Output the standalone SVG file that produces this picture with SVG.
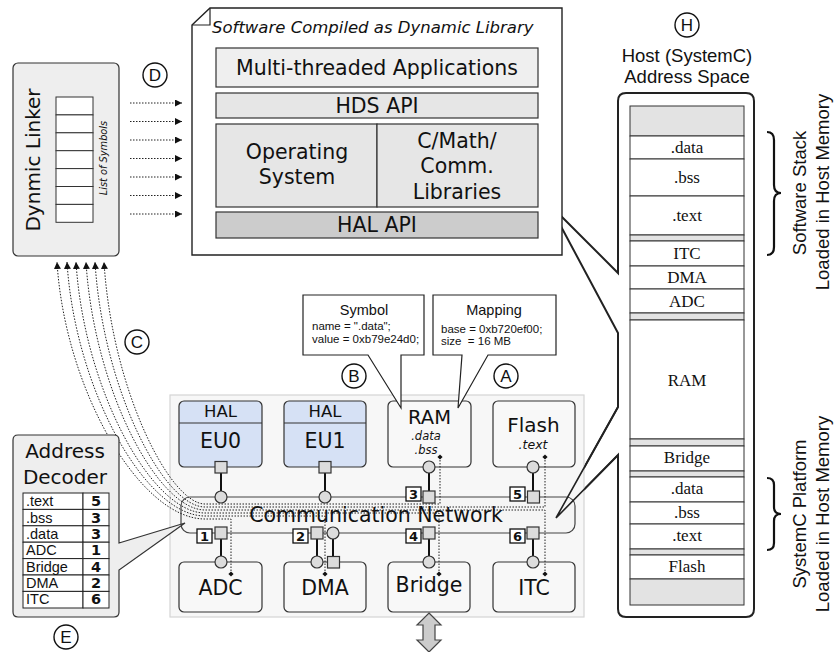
<svg xmlns="http://www.w3.org/2000/svg" width="834" height="652" viewBox="0 0 834 652">
<defs>
<style>
.dj{font-family:"DejaVu Sans",Verdana,sans-serif;fill:#111}
.dji{font-family:"DejaVu Sans",Verdana,sans-serif;font-style:italic;fill:#111}
.djb{font-family:"DejaVu Sans",Verdana,sans-serif;font-weight:bold;fill:#111}
.ls{font-family:"Liberation Sans",Arial,sans-serif;fill:#111}
.lr{font-family:"Liberation Serif","Times New Roman",serif;fill:#111}
.mid{text-anchor:middle}
.box{stroke:#333;stroke-width:1.2}
.port{fill:#dcdcdc;stroke:#333;stroke-width:1.2}
.pl{stroke:#111;stroke-width:2;fill:none}
.dotl{stroke:#222;stroke-width:1;stroke-dasharray:1.5 1.5;fill:none}
.num{fill:#fff;stroke:#111;stroke-width:1.3}
.lab{fill:#fff;stroke:#111;stroke-width:1.4}
.cell{fill:#fff;stroke:#333;stroke-width:1}
.gcell{fill:#e3e3e3;stroke:#333;stroke-width:1}
</style>
<marker id="ah" markerUnits="userSpaceOnUse" markerWidth="8" markerHeight="8" refX="7" refY="3.5" orient="auto"><path d="M0,0 L7,3.5 L0,7 Z" fill="#111"/></marker>
<path id="dmd" d="M0,-2.6 L2.6,0 L0,2.6 L-2.6,0 Z" fill="#111"/>
</defs>
<rect width="834" height="652" fill="#fff"/>

<!-- Host address space -->
<g id="host">
<path d="M626,93 H746 Q754,93 754,101 V609 Q754,617 746,617 H626 Q618,617 618,609 V455 L556,518 L618,407 V333 L549,204 L618,273 V101 Q618,93 626,93 Z" fill="#fff" stroke="#222" stroke-width="2"/>
<rect class="gcell" x="630" y="106" width="114" height="30"/>
<rect class="cell" x="630" y="136" width="114" height="23"/>
<rect class="cell" x="630" y="159" width="114" height="37"/>
<rect class="cell" x="630" y="196" width="114" height="39"/>
<rect class="gcell" x="630" y="235" width="114" height="6"/>
<rect class="cell" x="630" y="241" width="114" height="25"/>
<rect class="cell" x="630" y="266" width="114" height="23"/>
<rect class="cell" x="630" y="289" width="114" height="24"/>
<rect class="gcell" x="630" y="313" width="114" height="7"/>
<rect class="cell" x="630" y="320" width="114" height="119"/>
<rect class="gcell" x="630" y="439" width="114" height="7"/>
<rect class="cell" x="630" y="446" width="114" height="25"/>
<rect class="gcell" x="630" y="471" width="114" height="6"/>
<rect class="cell" x="630" y="477" width="114" height="25"/>
<rect class="cell" x="630" y="502" width="114" height="22"/>
<rect class="cell" x="630" y="524" width="114" height="25"/>
<rect class="gcell" x="630" y="549" width="114" height="6"/>
<rect class="cell" x="630" y="555" width="114" height="24"/>
<rect class="gcell" x="630" y="579" width="114" height="26"/>
<g class="lr mid" font-size="17">
<text x="687" y="153">.data</text>
<text x="687" y="183">.bss</text>
<text x="687" y="221">.text</text>
<text x="687" y="259">ITC</text>
<text x="687" y="283">DMA</text>
<text x="687" y="307">ADC</text>
<text x="687" y="386">RAM</text>
<text x="687" y="463">Bridge</text>
<text x="687" y="494">.data</text>
<text x="687" y="518">.bss</text>
<text x="687" y="541">.text</text>
<text x="687" y="572">Flash</text>
</g>
<text class="ls mid" font-size="18.5" x="687" y="62">Host (SystemC)</text>
<text class="ls mid" font-size="18.5" x="687" y="83">Address Space</text>
</g>

<!-- Braces and side labels -->
<g id="braces">
<path d="M767,132 Q774,132 774,140 V185 Q774,193 781,193 Q774,193 774,201 V247 Q774,255 767,255" fill="none" stroke="#111" stroke-width="2.2"/>
<path d="M767,478 Q774,478 774,485 V507 Q774,514 781,514 Q774,514 774,521 V543 Q774,550 767,550" fill="none" stroke="#111" stroke-width="2.2"/>
<text class="ls mid" font-size="18.5" transform="translate(806,193) rotate(-90)">Software Stack</text>
<text class="ls mid" font-size="18.5" transform="translate(829,192) rotate(-90)">Loaded in Host Memory</text>
<text class="ls mid" font-size="18.5" transform="translate(806,514) rotate(-90)">SystemC Platform</text>
<text class="ls mid" font-size="18.5" transform="translate(829,514) rotate(-90)">Loaded in Host Memory</text>
</g>

<!-- Software box -->
<g id="software">
<path d="M192,25 L210,8 H562 V255 H192 Z" fill="#fff" stroke="#222" stroke-width="1.4"/>
<path d="M210,8 V25 H192" fill="none" stroke="#222" stroke-width="1.2"/>
<text class="dji" font-size="16.5" x="212" y="33">Software Compiled as Dynamic Library</text>
<rect class="box" x="216" y="48" width="322" height="39" fill="#efefef"/>
<text class="dj mid" font-size="20.5" x="377" y="75">Multi-threaded Applications</text>
<rect class="box" x="216" y="93" width="322" height="25" fill="#e6e6e6"/>
<text class="dj mid" font-size="20.5" x="377" y="113">HDS API</text>
<rect class="box" x="216" y="124" width="161" height="83" fill="#e6e6e6"/>
<rect class="box" x="377" y="124" width="161" height="83" fill="#e6e6e6"/>
<text class="dj mid" font-size="20.5" x="297" y="159">Operating</text>
<text class="dj mid" font-size="20.5" x="297" y="184">System</text>
<text class="dj mid" font-size="20.5" x="457" y="148">C/Math/</text>
<text class="dj mid" font-size="20.5" x="457" y="173">Comm.</text>
<text class="dj mid" font-size="20.5" x="457" y="199">Libraries</text>
<rect class="box" x="216" y="212" width="322" height="26" fill="#cccccc"/>
<text class="dj mid" font-size="20.5" x="377" y="232">HAL API</text>
</g>

<!-- Dynamic linker -->
<g id="linker">
<rect class="box" x="13" y="63" width="106" height="193" rx="5" fill="#eeeeee"/>
<text class="dj mid" font-size="20" transform="translate(40,160) rotate(-90)">Dynmic Linker</text>
<rect class="cell" x="56" y="97" width="37" height="17.9"/>
<rect class="cell" x="56" y="114.9" width="37" height="17.9"/>
<rect class="cell" x="56" y="132.8" width="37" height="17.9"/>
<rect class="cell" x="56" y="150.7" width="37" height="17.9"/>
<rect class="cell" x="56" y="168.6" width="37" height="17.9"/>
<rect class="cell" x="56" y="186.5" width="37" height="17.9"/>
<rect class="cell" x="56" y="204.4" width="37" height="17.9"/>
<text class="dji mid" font-size="9.8" transform="translate(107,158) rotate(-90)">List of Symbols</text>
</g>

<!-- Platform panel -->
<g id="platform">
<rect x="170" y="395" width="414" height="222" fill="#f7f7f7" stroke="#d4d4d4" stroke-width="1.2"/>
</g>

<g id="eu0">
<rect class="box" x="179" y="401" width="83" height="66" rx="5" fill="#d6e1f5"/>
<line x1="179" y1="423" x2="262" y2="423" stroke="#333" stroke-width="1.2"/>
<text class="dj mid" font-size="16.5" x="220.5" y="417">HAL</text>
<text class="dj mid" font-size="20.5" x="220.5" y="448">EU0</text>
</g>
<g id="eu1">
<rect class="box" x="284" y="401" width="82" height="66" rx="5" fill="#d6e1f5"/>
<line x1="284" y1="423" x2="366" y2="423" stroke="#333" stroke-width="1.2"/>
<text class="dj mid" font-size="16.5" x="325" y="417">HAL</text>
<text class="dj mid" font-size="20.5" x="325" y="448">EU1</text>
</g>
<g id="ram">
<rect class="box" x="388" y="401" width="83" height="66" rx="5" fill="#f8f8f8"/>
<text class="dj mid" font-size="19.5" x="429.5" y="424">RAM</text>
<text class="dji mid" font-size="11.5" x="426" y="440">.data</text>
<text class="dji mid" font-size="11.5" x="426" y="454">.bss</text>
</g>
<g id="flash">
<rect class="box" x="493" y="401" width="82" height="66" rx="5" fill="#f8f8f8"/>
<text class="dj mid" font-size="20" x="533.5" y="432">Flash</text>
<text class="dji mid" font-size="12.5" x="533" y="449">.text</text>
</g>
<g id="adc">
<rect class="box" x="179" y="562" width="83" height="50" rx="5" fill="#f8f8f8"/>
<text class="dj mid" font-size="20.5" x="220.5" y="595">ADC</text>
</g>
<g id="dma">
<rect class="box" x="284" y="562" width="82" height="50" rx="5" fill="#f8f8f8"/>
<text class="dj mid" font-size="20.5" x="325" y="595">DMA</text>
</g>
<g id="bridge">
<rect class="box" x="388" y="562" width="82" height="50" rx="5" fill="#f8f8f8"/>
<text class="dj mid" font-size="20.5" x="429" y="592">Bridge</text>
</g>
<g id="itc">
<rect class="box" x="493" y="562" width="82" height="50" rx="5" fill="#f8f8f8"/>
<text class="dj mid" font-size="20.5" x="534" y="595">ITC</text>
</g>
<g id="network">
<rect x="181" y="497" width="394" height="36" rx="9" fill="#f5f5f5" stroke="#444" stroke-width="1.2"/>
<text class="dj mid" font-size="20.5" x="376" y="522">Communication Network</text>
</g>

<!-- lower wedge edges of host callout -->
<g id="host-wedge">
<path d="M618,455 L556,518 L618,407" fill="none" stroke="#222" stroke-width="1.6"/>
</g>

<!-- Connectors -->
<g id="connectors">
<g class="pl">
<line x1="221" y1="473" x2="221" y2="491"/>
<line x1="325" y1="473" x2="325" y2="491"/>
<line x1="429" y1="473" x2="429" y2="491"/>
<line x1="533" y1="473" x2="533" y2="491"/>
<line x1="221" y1="539" x2="221" y2="556"/>
<line x1="317" y1="539" x2="317" y2="556"/>
<line x1="333" y1="539" x2="333" y2="557"/>
<line x1="429" y1="539" x2="429" y2="556"/>
<line x1="533" y1="539" x2="533" y2="556"/>
</g>
<g id="ports">
<rect class="port" x="215" y="461.5" width="12" height="11.5"/>
<rect class="port" x="319" y="461.5" width="12" height="11.5"/>
<circle class="port" cx="221" cy="497" r="6"/>
<circle class="port" cx="325" cy="497" r="6"/>
<circle class="port" cx="429" cy="467" r="6"/>
<circle class="port" cx="533" cy="467" r="6"/>
<rect class="port" x="423" y="491" width="12" height="12"/>
<rect class="port" x="527.5" y="491" width="12" height="12"/>
<rect class="port" x="215" y="527" width="12" height="12"/>
<rect class="port" x="311" y="527" width="12" height="12"/>
<rect class="port" x="423" y="527" width="12" height="12"/>
<rect class="port" x="527" y="527" width="12" height="12"/>
<circle class="port" cx="221" cy="562" r="6"/>
<circle class="port" cx="317" cy="562" r="6"/>
<circle class="port" cx="333" cy="533" r="6"/>
<rect class="port" x="327.5" y="556.5" width="12" height="11.5"/>
<circle class="port" cx="429" cy="562" r="6"/>
<circle class="port" cx="533" cy="562" r="6"/>
</g>
<g id="numbers">
<rect class="num" x="406" y="487" width="15" height="14"/>
<text class="djb mid" font-size="13" x="413.5" y="499">3</text>
<rect class="num" x="510" y="487" width="15" height="14"/>
<text class="djb mid" font-size="13" x="517.5" y="499">5</text>
<rect class="num" x="197" y="529" width="15" height="14"/>
<text class="djb mid" font-size="13" x="204.5" y="541">1</text>
<rect class="num" x="293" y="529" width="15" height="14"/>
<text class="djb mid" font-size="13" x="300.5" y="541">2</text>
<rect class="num" x="406" y="529" width="15" height="14"/>
<text class="djb mid" font-size="13" x="413.5" y="541">4</text>
<rect class="num" x="510" y="529" width="15" height="14"/>
<text class="djb mid" font-size="13" x="517.5" y="541">6</text>
</g>
<!-- symbol lookup lines (C) -->
<g class="dotl" marker-end="url(#ah)">
<path d="M440,457 V504 H205 C170,504 112,390 104,262"/>
<path d="M545,457 V507 H205 C164,507 103,390 95,262"/>
<path d="M545,574 V510 H205 C158,510 94,390 86,262"/>
<path d="M439,574 V513 H205 C152,513 84,390 76,262"/>
<path d="M325,574 V516 H205 C146,516 75,390 67,262"/>
<path d="M231,574 V519 H205 C140,519 65,390 57,262"/>
</g>
<use href="#dmd" x="440" y="457"/>
<use href="#dmd" x="545" y="457"/>
<use href="#dmd" x="231" y="574"/>
<use href="#dmd" x="325" y="574"/>
<use href="#dmd" x="439" y="574"/>
<use href="#dmd" x="545" y="574"/>
<!-- linker to software (D) -->
<g class="dotl" marker-end="url(#ah)">
<path d="M130,103 H182"/>
<path d="M130,121.5 H182"/>
<path d="M130,140 H182"/>
<path d="M130,158.5 H182"/>
<path d="M130,177 H182"/>
<path d="M130,195.5 H182"/>
<path d="M130,214 H182"/>
</g>
<!-- external bridge arrow -->
<polygon points="429,613 441,625 435,625 435,640 441,640 429,652 417,640 423,640 423,625 417,625" fill="#cccccc" stroke="#444" stroke-width="1.2"/>
</g>

<!-- Symbol callout -->
<g id="symbol">
<path d="M303,295 H424 V355 H401 V408 L368,355 H303 Z" fill="#fff" stroke="#222" stroke-width="1.2"/>
<text class="ls mid" font-size="14.5" x="364" y="315">Symbol</text>
<text class="ls" font-size="11.5" x="312" y="330">name = ".data";</text>
<text class="ls" font-size="11.5" x="312" y="343">value = 0xb79e24d0;</text>
</g>
<g id="mapping">
<path d="M433,295 H556 V355 H488 L458,408 L462,355 H433 Z" fill="#fff" stroke="#222" stroke-width="1.2"/>
<text class="ls mid" font-size="14.5" x="494" y="315">Mapping</text>
<text class="ls" font-size="11.5" x="441" y="333">base = 0xb720ef00;</text>
<text class="ls" font-size="11.5" x="441" y="345" xml:space="preserve">size  = 16 MB</text>
</g>

<!-- Address decoder -->
<g id="decoder">
<path d="M18,435 H114 Q119,435 119,440 V543 L185,523 L119,570 V612 Q119,617 114,617 H18 Q13,617 13,612 V440 Q13,435 18,435 Z" fill="#eeeeee" stroke="#333" stroke-width="1.2"/>
<text class="dj mid" font-size="20" x="65" y="458">Address</text>
<text class="dj mid" font-size="20" x="65" y="484">Decoder</text>
<g fill="#fff" stroke="#222" stroke-width="1">
<rect x="23" y="493" width="60" height="16.4"/><rect x="83" y="493" width="26" height="16.4"/>
<rect x="23" y="509.4" width="60" height="16.4"/><rect x="83" y="509.4" width="26" height="16.4"/>
<rect x="23" y="525.8" width="60" height="16.4"/><rect x="83" y="525.8" width="26" height="16.4"/>
<rect x="23" y="542.2" width="60" height="16.4"/><rect x="83" y="542.2" width="26" height="16.4"/>
<rect x="23" y="558.6" width="60" height="16.4"/><rect x="83" y="558.6" width="26" height="16.4"/>
<rect x="23" y="575" width="60" height="16.4"/><rect x="83" y="575" width="26" height="16.4"/>
<rect x="23" y="591.4" width="60" height="16.6"/><rect x="83" y="591.4" width="26" height="16.6"/>
</g>
<g class="ls" font-size="14.5">
<text x="26" y="506">.text</text>
<text x="26" y="522.5">.bss</text>
<text x="26" y="539">.data</text>
<text x="26" y="555">ADC</text>
<text x="26" y="571.5">Bridge</text>
<text x="26" y="588">DMA</text>
<text x="26" y="604">ITC</text>
</g>
<g class="djb mid" font-size="14.5">
<text x="96" y="506">5</text>
<text x="96" y="522.5">3</text>
<text x="96" y="539">3</text>
<text x="96" y="555">1</text>
<text x="96" y="571.5">4</text>
<text x="96" y="588">2</text>
<text x="96" y="604">6</text>
</g>
</g>

<!-- circled letters -->
<g id="labels">
<circle class="lab" cx="354" cy="376" r="12"/><text class="ls mid" font-size="17" x="354" y="382">B</text>
<circle class="lab" cx="506" cy="376" r="12"/><text class="ls mid" font-size="17" x="506" y="382">A</text>
<circle class="lab" cx="137" cy="342" r="12"/><text class="ls mid" font-size="17" x="137" y="348">C</text>
<circle class="lab" cx="155" cy="75" r="12"/><text class="ls mid" font-size="17" x="155" y="81">D</text>
<circle class="lab" cx="66" cy="637" r="12"/><text class="ls mid" font-size="17" x="66" y="643">E</text>
<circle class="lab" cx="687" cy="25" r="12"/><text class="ls mid" font-size="17" x="687" y="31">H</text>
</g>
</svg>
